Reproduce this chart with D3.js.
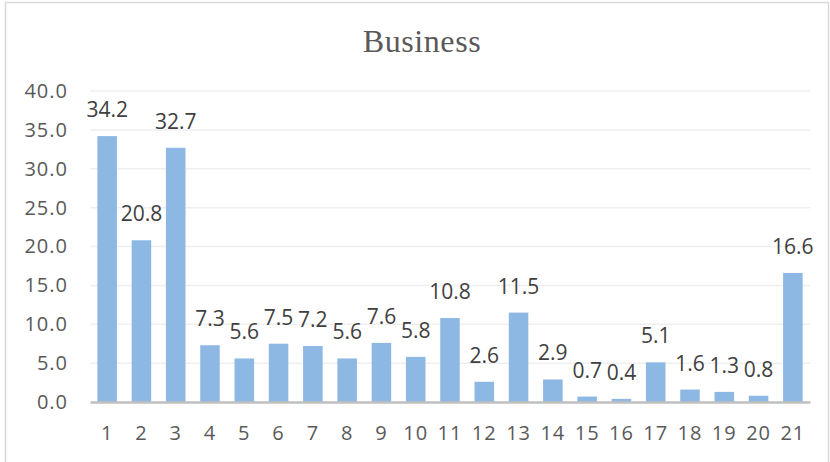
<!DOCTYPE html>
<html>
<head>
<meta charset="utf-8">
<script src="https://cdn.jsdelivr.net/npm/d3@7"></script>
<style>
  body { margin: 0; background: #fff; }
  svg { display: block; }
</style>
</head>
<body>
<div id="chart"></div>
<script>
// data
var categories = ["1","2","3","4","5","6","7","8","9","10","11","12","13","14","15","16","17","18","19","20","21"];
var values = [34.2, 20.8, 32.7, 7.3, 5.6, 7.5, 7.2, 5.6, 7.6, 5.8, 10.8, 2.6, 11.5, 2.9, 0.7, 0.4, 5.1, 1.6, 1.3, 0.8, 16.6];
var yTicks = [0, 5, 10, 15, 20, 25, 30, 35, 40];
var title = "Business";

var W = 830, H = 462;
var margin = {top: 91, right: 20, bottom: 60, left: 90},
    width = W - margin.left - margin.right,
    height = H - margin.top - margin.bottom;

var svg = d3.select("#chart").append("svg")
    .attr("width", W)
    .attr("height", H);

// chart border
svg.append("rect")
    .attr("x", 5.5).attr("y", 2.5)
    .attr("width", 823).attr("height", 480)
    .attr("fill", "none")
    .attr("stroke", "#d9d9d9")
    .attr("stroke-width", 1.5);

// title
svg.append("text")
    .attr("x", 422)
    .attr("y", 52)
    .attr("text-anchor", "middle")
    .style("font-family", "'Liberation Serif', 'Times New Roman', serif")
    .style("font-size", "32px")
    .style("letter-spacing", "0.6px")
    .style("fill", "#595959")
    .text(title);

var g = svg.append("g")
    .attr("transform", "translate(" + margin.left + "," + margin.top + ")");

var x = d3.scaleBand()
    .domain(categories)
    .range([0, width])
    .paddingInner(0.43)
    .paddingOuter(0.215);

var y = d3.scaleLinear()
    .domain([0, 40])
    .range([height, 0]);

// gridlines
g.append("g")
  .selectAll("line")
  .data(yTicks.filter(d => d > 0))
  .join("line")
    .attr("x1", 0).attr("x2", width)
    .attr("y1", d => y(d)).attr("y2", d => y(d))
    .attr("stroke", "#efefef")
    .attr("stroke-width", 1.5);

// y axis labels
var yAxis = g.append("g")
    .call(d3.axisLeft(y).tickValues(yTicks).tickFormat(d3.format(".1f")).tickSize(0).tickPadding(22));
yAxis.select(".domain").remove();
yAxis.selectAll("text")
    .style("font-family", "'Open Sans', sans-serif")
    .style("font-size", "20px")
    .style("letter-spacing", "1px")
    .style("fill", "#595959");

// bars
g.append("g")
  .selectAll("rect")
  .data(values)
  .join("rect")
    .attr("x", (d, i) => x(categories[i]))
    .attr("y", d => y(d))
    .attr("width", x.bandwidth())
    .attr("height", d => height - y(d))
    .attr("fill", "#8db8e3");

// value labels
g.append("g")
  .selectAll("text")
  .data(values)
  .join("text")
    .attr("x", (d, i) => x(categories[i]) + x.bandwidth() / 2)
    .attr("y", d => y(d) - 19)
    .attr("text-anchor", "middle")
    .style("font-family", "'Open Sans', sans-serif")
    .style("font-size", "21px")
    .style("fill", "#404040")
    .text(d => d3.format(".1f")(d));

// x axis
var xAxis = g.append("g")
    .attr("transform", "translate(0," + height + ")")
    .call(d3.axisBottom(x).tickSize(0).tickPadding(24));
xAxis.select(".domain")
    .attr("stroke", "#bfbfbf")
    .attr("stroke-width", 2.5);
xAxis.selectAll("text")
    .style("font-family", "'Open Sans', sans-serif")
    .style("font-size", "20px")
    .style("letter-spacing", "1px")
    .style("fill", "#595959");
</script>
</body>
</html>
